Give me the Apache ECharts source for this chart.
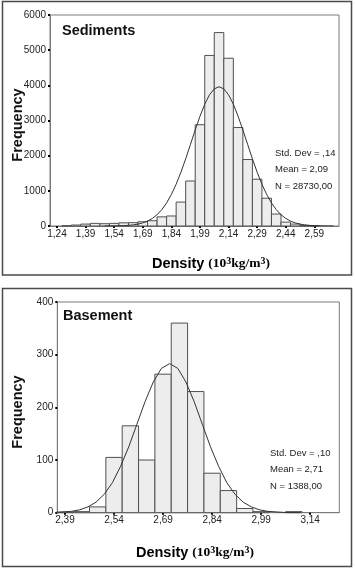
<!DOCTYPE html>
<html>
<head>
<meta charset="utf-8">
<script src="https://cdn.jsdelivr.net/npm/echarts@6/dist/echarts.min.js"></script>
<style>html,body{margin:0;padding:0;background:#fff}#c{width:355px;height:569px}</style>
</head>
<body>
<div id="c"></div>
<script>
// ---- Sediments histogram (bin centers, frequencies) ----
const sedBins = [1.24,1.29,1.34,1.39,1.44,1.49,1.54,1.59,1.64,1.69,1.74,1.79,1.84,1.89,1.94,1.99,2.04,2.09,2.14,2.19,2.24,2.29,2.34,2.39,2.44,2.49,2.54,2.59];
const sedFreq = [0,8,28,55,75,65,75,90,95,120,150,260,285,680,1280,2880,4850,5500,4770,2800,1890,1330,790,340,110,55,15,5];
const sedTicks = [1.24,1.39,1.54,1.69,1.84,1.99,2.14,2.29,2.44,2.59];
const sedCurveX = [1.49,1.54,1.59,1.615,1.64,1.665,1.69,1.715,1.74,1.765,1.79,1.815,1.84,1.865,1.89,1.915,1.94,1.965,1.99,2.015,2.04,2.065,2.09,2.115,2.14,2.165,2.19,2.215,2.24,2.265,2.29,2.315,2.34,2.365,2.39,2.415,2.44,2.465,2.49,2.515,2.54,2.565,2.59,2.64,2.69];
const sedCurveY = [1,3,10,18,32,54,88,140,215,320,466,656,896,1188,1530,1910,2320,2730,3120,3465,3730,3900,3960,3900,3730,3465,3120,2730,2320,1910,1530,1188,896,656,466,320,215,140,88,54,32,18,10,3,1];
const sedStats = ['Std. Dev = ,14','Mean = 2,09','N = 28730,00'];

// ---- Basement histogram ----
const basBins = [2.39,2.44,2.49,2.54,2.59,2.64,2.69,2.74,2.79,2.84,2.89,2.94,2.99,3.04,3.09,3.14];
const basFreq = [1,2,11,105,165,100,263,360,230,75,42,8,2,0,2,0];
const basTicks = [2.39,2.54,2.69,2.84,2.99,3.14];
const basCurveX = [2.36,2.41,2.435,2.46,2.485,2.51,2.535,2.56,2.585,2.61,2.635,2.66,2.685,2.71,2.735,2.76,2.785,2.81,2.835,2.86,2.885,2.91,2.935,2.96,2.985,3.01,3.06,3.11];
const basCurveY = [0.5,2.6,5.5,11,20,35,57,88,125,168,211,248,274,283,274,248,211,168,125,88,57,35,20,11,5.5,2.6,0.5,0.1];
const basStats = ['Std. Dev = ,10','Mean = 2,71','N = 1388,00'];

const binWidth = 0.05;

const chart = echarts.init(document.getElementById('c'), null, {renderer:'canvas'});
const fmt = v => v.toFixed(2).replace('.', ',');
const pair = (xs, ys) => xs.map((x,i)=>[x, ys[i]]);

function barItem(params, api){
  const x = api.value(0), y = api.value(1);
  if (!y) return null;
  const p0 = api.coord([x - binWidth/2, 0]);
  const p1 = api.coord([x + binWidth/2, y]);
  return {type:'rect', shape:{x:p0[0], y:p1[1], width:p1[0]-p0[0], height:p0[1]-p1[1]},
          style:{fill:'#ededed', stroke:'#505050', lineWidth:1}};
}

function xAxisFor(idx, min, max, ticks){
  return {
    type:'value', gridIndex:idx, min:min, max:max,
    splitLine:{show:false},
    axisLine:{show:true, onZero:false, lineStyle:{color:'#7a7a7a', width:1}},
    axisTick:{show:true, customValues:ticks, length:2, lineStyle:{color:'#000', width:2}},
    axisLabel:{customValues:ticks, formatter:fmt, margin:3, fontSize:10, fontFamily:'Liberation Sans', color:'#222'}
  };
}
function yAxisFor(idx, max, interval){
  return {
    type:'value', gridIndex:idx, min:0, max:max, interval:interval,
    splitLine:{show:false},
    axisLine:{show:true, lineStyle:{color:'#7a7a7a', width:1}},
    axisTick:{show:true, length:2, lineStyle:{color:'#000', width:2}},
    axisLabel:{margin:4, fontSize:10, fontFamily:'Liberation Sans', color:'#222', formatter: v => String(v)}
  };
}

const titleRich = {
  a:{font:'bold 14.5px "Liberation Sans"', color:'#111', lineHeight:16},
  b:{font:'bold 13.5px "Liberation Serif"', color:'#111', lineHeight:15},
  s:{font:'bold 10px "Liberation Serif"', color:'#111', lineHeight:11, verticalAlign:'top', padding:[0,0,9,0]}
};
const densityText = '{a|Density }{b|(10}{s|3}{b|kg/m}{s|3}{b|)}';

function statTexts(x, y0, lines){
  return lines.map((t,i)=>({type:'text', x:x, y:y0 + i*16.2,
    style:{text:t, font:'9.5px "Liberation Sans"', fill:'#222', verticalAlign:'middle'}}));
}

chart.setOption({
  animation:false,
  backgroundColor:'#fff',
  grid:[
    {left:50, top:15, width:289, height:211, show:true, borderColor:'#7a7a7a', borderWidth:1, backgroundColor:'#fff'},
    {left:57.3, top:302, width:282, height:210.7, show:true, borderColor:'#7a7a7a', borderWidth:1, backgroundColor:'#fff'}
  ],
  xAxis:[ xAxisFor(0, 1.2033, 2.7193, sedTicks), xAxisFor(1, 2.3665, 3.229, basTicks) ],
  yAxis:[ yAxisFor(0, 6000, 1000), yAxisFor(1, 400, 100) ],
  series:[
    {type:'custom', xAxisIndex:0, yAxisIndex:0, renderItem:barItem, data:pair(sedBins, sedFreq), z:2},
    {type:'line', xAxisIndex:0, yAxisIndex:0, data:pair(sedCurveX, sedCurveY), showSymbol:false, smooth:false,
     lineStyle:{color:'#333', width:1}, z:3},
    {type:'custom', xAxisIndex:1, yAxisIndex:1, renderItem:barItem, data:pair(basBins, basFreq), z:2},
    {type:'line', xAxisIndex:1, yAxisIndex:1, data:pair(basCurveX, basCurveY), showSymbol:false, smooth:false,
     lineStyle:{color:'#333', width:1}, z:3}
  ],
  graphic:[
    {type:'rect', shape:{x:2.5, y:1.5, width:349, height:273.5}, style:{fill:'none', stroke:'#4a4a4a', lineWidth:1.5}, z:10},
    {type:'rect', shape:{x:2.5, y:288.5, width:349, height:278}, style:{fill:'none', stroke:'#4a4a4a', lineWidth:1.5}, z:10},
    {type:'text', x:62, y:30.5, style:{text:'Sediments', font:'bold 14.5px "Liberation Sans"', fill:'#111', verticalAlign:'middle'}, z:10},
    {type:'text', x:63, y:315.5, style:{text:'Basement', font:'bold 14.5px "Liberation Sans"', fill:'#111', verticalAlign:'middle'}, z:10},
    {type:'text', x:17.5, y:125, rotation:Math.PI/2, style:{text:'Frequency', font:'bold 14.5px "Liberation Sans"', fill:'#111', align:'center', verticalAlign:'middle'}, z:10},
    {type:'text', x:18, y:412, rotation:Math.PI/2, style:{text:'Frequency', font:'bold 14.5px "Liberation Sans"', fill:'#111', align:'center', verticalAlign:'middle'}, z:10},
    {type:'text', x:211, y:264, style:{text:densityText, rich:titleRich, align:'center', verticalAlign:'middle'}, z:10},
    {type:'text', x:195, y:553, style:{text:densityText, rich:titleRich, align:'center', verticalAlign:'middle'}, z:10},
    ...statTexts(275, 153.5, sedStats),
    ...statTexts(270, 453.5, basStats)
  ]
});
</script>
</body>
</html>
